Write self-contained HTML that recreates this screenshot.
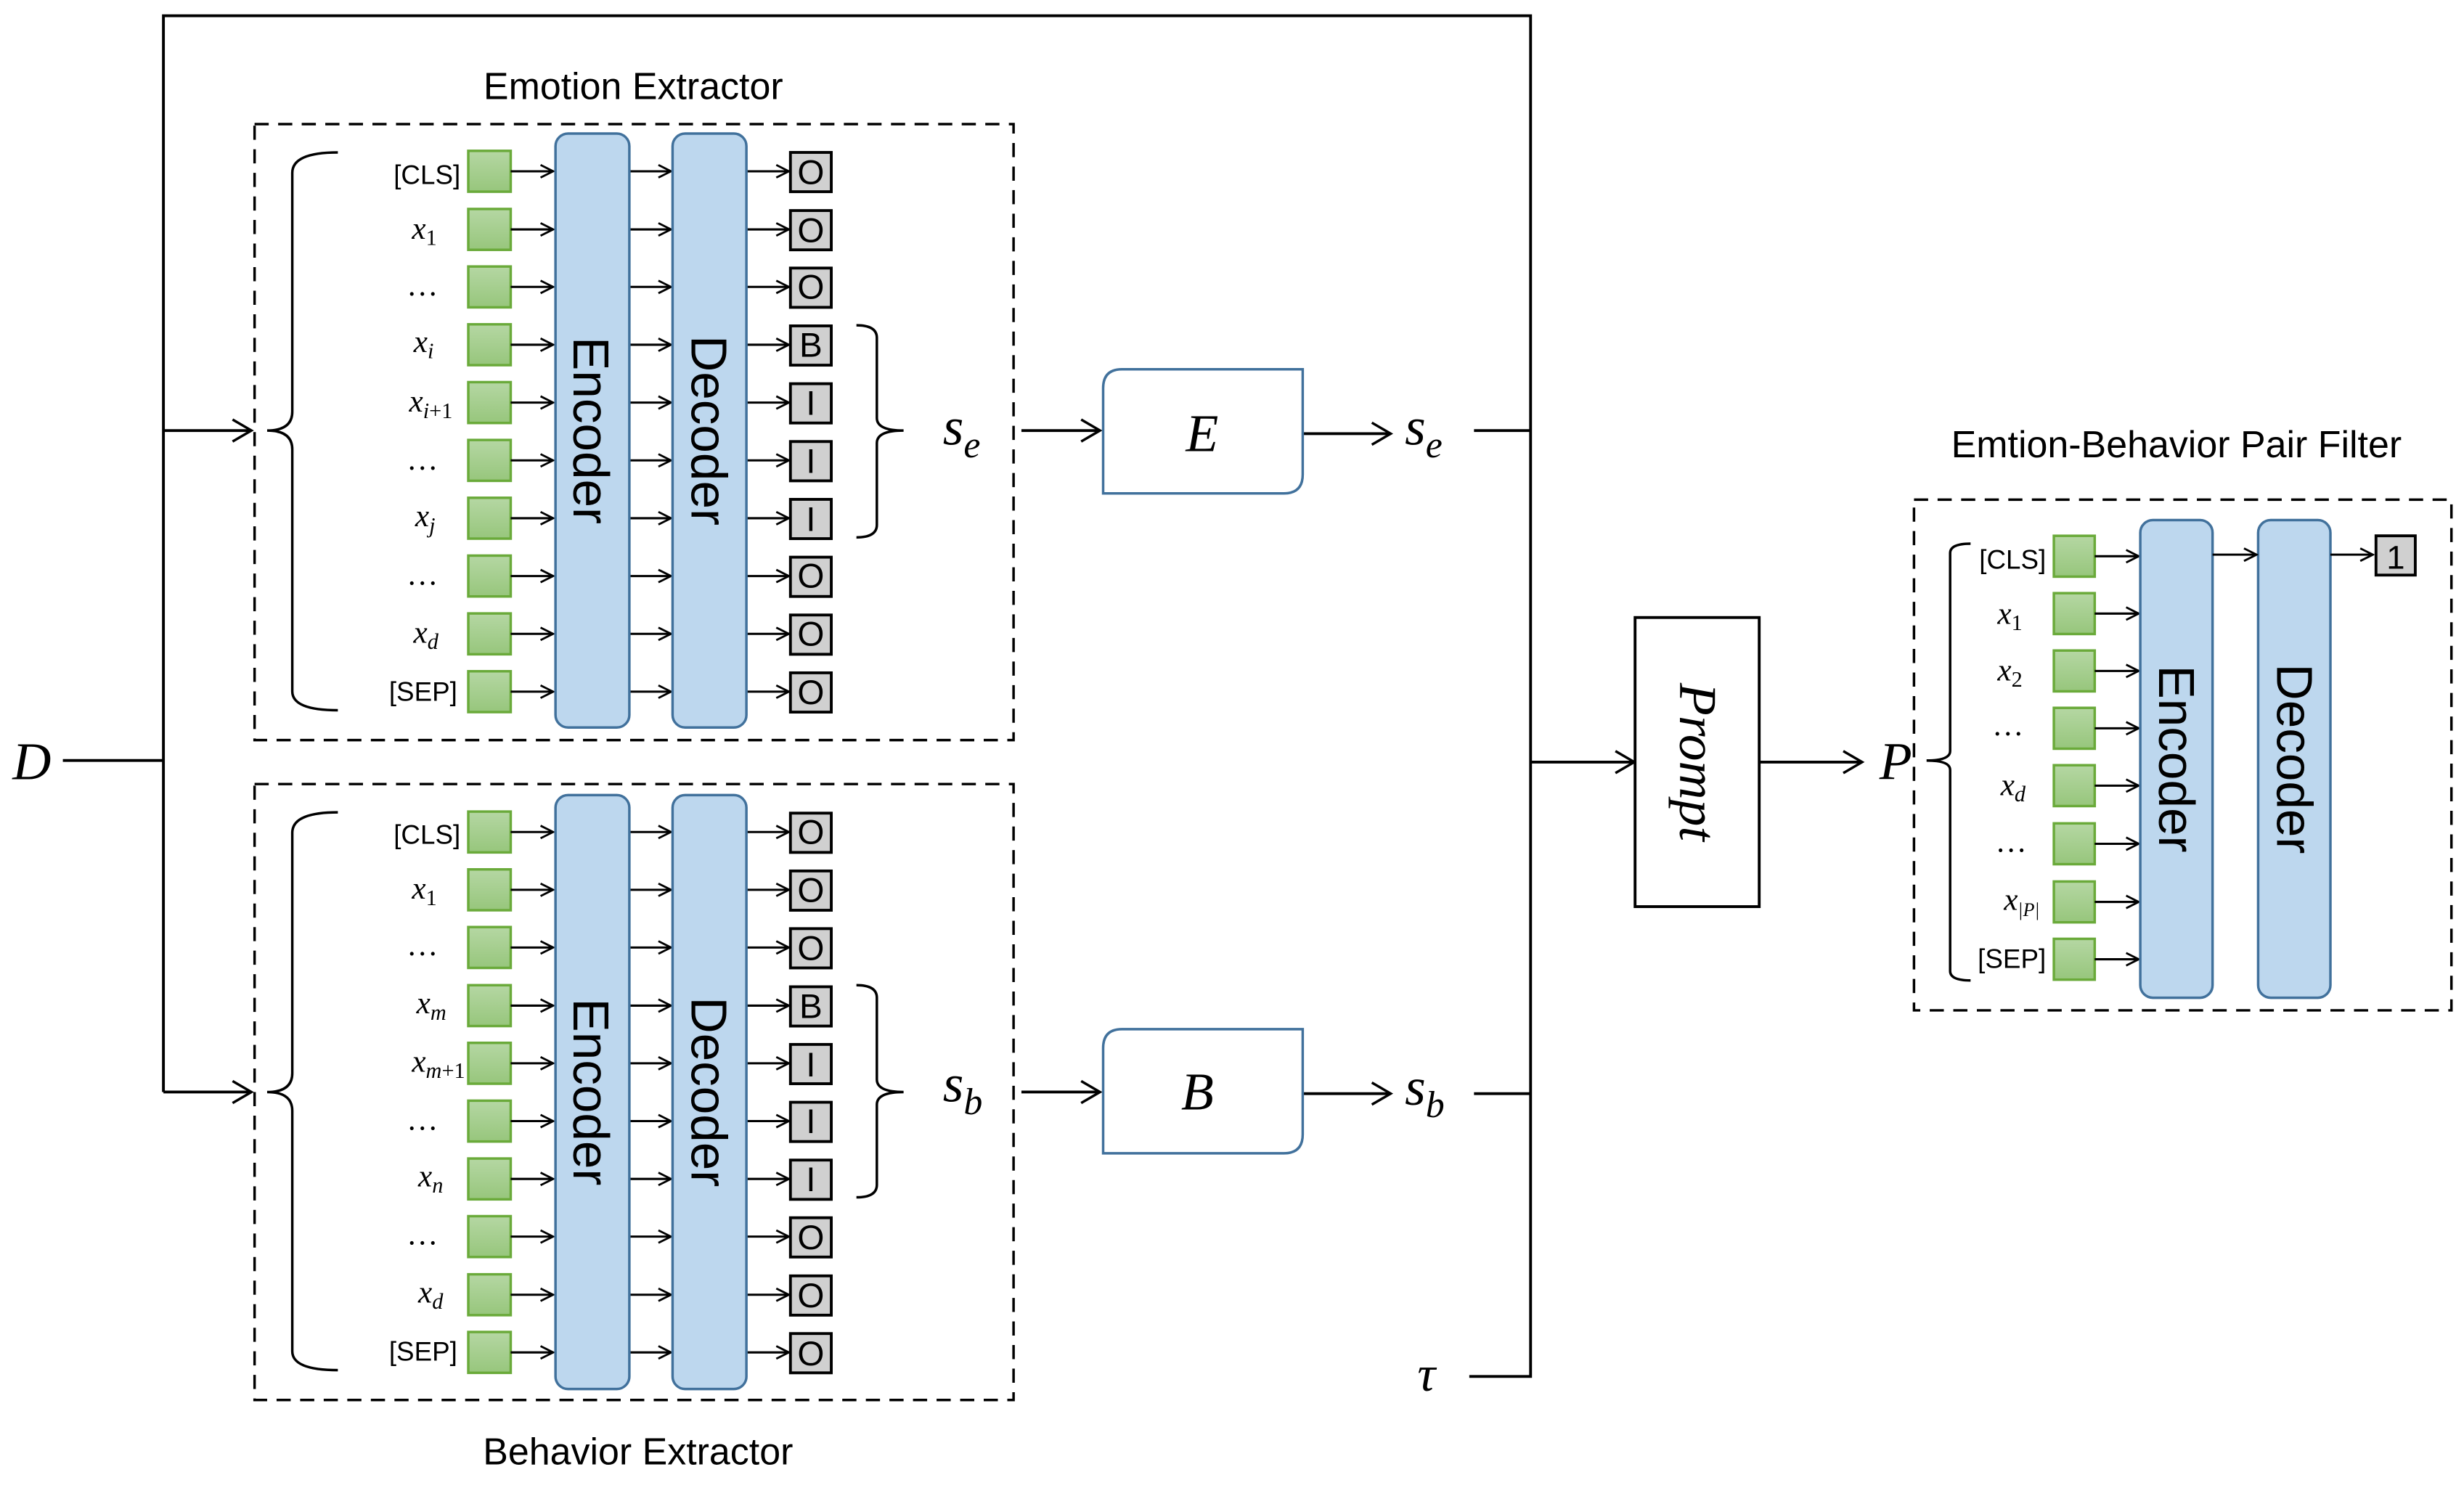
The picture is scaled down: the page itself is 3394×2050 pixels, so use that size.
<!DOCTYPE html>
<html><head><meta charset="utf-8"><style>
html,body{margin:0;padding:0;background:#fff;}
svg{display:block;}
.t{font-family:"Liberation Sans",sans-serif;}
.m{font-family:"Liberation Serif",serif;font-style:italic;}
</style></head><body>
<svg width="3394" height="2050" viewBox="0 0 1568 947" preserveAspectRatio="none" xmlns="http://www.w3.org/2000/svg">
<defs>
<marker id="a" markerWidth="10" markerHeight="10" refX="9" refY="5" orient="auto" markerUnits="userSpaceOnUse"><path d="M1,1 L9,5 L1,9" fill="none" stroke="#000" stroke-width="1.3"/></marker>
<marker id="b" markerWidth="16" markerHeight="16" refX="14" refY="8" orient="auto" markerUnits="userSpaceOnUse"><path d="M2,1 L14,8 L2,15" fill="none" stroke="#000" stroke-width="1.6"/></marker>
<linearGradient id="g" x1="0" y1="0" x2="0" y2="1"><stop offset="0" stop-color="#b5d7a3"/><stop offset="1" stop-color="#97c67c"/></linearGradient>
<g id="row">
<rect x="298" y="-13" width="27" height="26" fill="url(#g)" stroke="#6aaa3a" stroke-width="1.6"/>
<line x1="325" y1="0" x2="352" y2="0" stroke="#000" stroke-width="1.4" marker-end="url(#a)"/>
<line x1="401" y1="0" x2="427" y2="0" stroke="#000" stroke-width="1.4" marker-end="url(#a)"/>
<line x1="475" y1="0" x2="502" y2="0" stroke="#000" stroke-width="1.4" marker-end="url(#a)"/>
<rect x="503" y="-12" width="26" height="25" fill="#d0d0d0" stroke="#000" stroke-width="1.8"/>
</g>
<g id="row2">
<rect x="1307" y="-13" width="26" height="26" fill="url(#g)" stroke="#6aaa3a" stroke-width="1.6"/>
<line x1="1333" y1="0" x2="1361" y2="0" stroke="#000" stroke-width="1.4" marker-end="url(#a)"/>
</g>
</defs>

<g stroke="#000" stroke-width="1.8" fill="none">
<polyline points="104,695 104,10 974,10 974,876 935,876"/>
<line x1="40" y1="484" x2="104" y2="484"/>
<line x1="104" y1="274" x2="160" y2="274" marker-end="url(#b)"/>
<line x1="104" y1="695" x2="160" y2="695" marker-end="url(#b)"/>
<line x1="650" y1="274" x2="700" y2="274" marker-end="url(#b)"/>
<line x1="829" y1="276" x2="885" y2="276" marker-end="url(#b)"/>
<line x1="938" y1="274" x2="974" y2="274"/>
<line x1="650" y1="695" x2="700" y2="695" marker-end="url(#b)"/>
<line x1="829" y1="696" x2="885" y2="696" marker-end="url(#b)"/>
<line x1="938" y1="696" x2="974" y2="696"/>
<line x1="974" y1="485" x2="1040" y2="485" marker-end="url(#b)"/>
<line x1="1120" y1="485" x2="1185" y2="485" marker-end="url(#b)"/>
</g>

<text x="8" y="496" class="m" font-size="34">D</text>
<text x="600" y="283" class="m" font-size="34">s<tspan font-size="24" dy="8">e</tspan></text>
<text x="894" y="283" class="m" font-size="34">s<tspan font-size="24" dy="8">e</tspan></text>
<text x="600" y="701" class="m" font-size="34">s<tspan font-size="24" dy="8">b</tspan></text>
<text x="894" y="703" class="m" font-size="34">s<tspan font-size="24" dy="8">b</tspan></text>
<text x="902" y="885" class="m" font-size="32">τ</text>
<text x="1196" y="496" class="m" font-size="34">P</text>

<path d="M714,235 H829 V302 Q829,314 817,314 H702 V247 Q702,235 714,235 Z" fill="#fff" stroke="#41719c" stroke-width="1.6"/>
<text x="765" y="287" class="m" font-size="34" text-anchor="middle">E</text>
<path d="M714,655 H829 V722 Q829,734 817,734 H702 V667 Q702,655 714,655 Z" fill="#fff" stroke="#41719c" stroke-width="1.6"/>
<text x="762" y="706" class="m" font-size="34" text-anchor="middle">B</text>

<rect x="1040.5" y="393" width="79" height="184" fill="#fff" stroke="#000" stroke-width="1.8"/>
<text class="m" font-size="34" text-anchor="middle" transform="translate(1069,485) rotate(90)">Prompt</text>

<text x="403" y="63" class="t" font-size="24" text-anchor="middle">Emotion Extractor</text>
<text x="406" y="932" class="t" font-size="24" text-anchor="middle">Behavior Extractor</text>
<text x="1385" y="291" class="t" font-size="24" text-anchor="middle">Emtion-Behavior Pair Filter</text>

<rect x="162" y="79" width="483" height="392" fill="none" stroke="#000" stroke-width="1.6" stroke-dasharray="9,6"/>
<path d="M215,97 Q186,97 186,110 V262 Q186,274 170,274 Q186,274 186,286 V440 Q186,452 215,452" fill="none" stroke="#000" stroke-width="1.6"/>
<path d="M545,207 Q558,207 558,215 V266 Q558,274 575,274 Q558,274 558,282 V334 Q558,342 545,342" fill="none" stroke="#000" stroke-width="1.6"/>
<use href="#row" y="109"/><use href="#row" y="146"/><use href="#row" y="182.6"/><use href="#row" y="219.4"/><use href="#row" y="256.2"/>
<use href="#row" y="293"/><use href="#row" y="329.8"/><use href="#row" y="366.6"/><use href="#row" y="403.4"/><use href="#row" y="440.2"/>
<rect x="353.5" y="85" width="47" height="378" rx="8" fill="#bdd7ee" stroke="#41719c" stroke-width="1.6"/>
<rect x="428" y="85" width="47" height="378" rx="8" fill="#bdd7ee" stroke="#41719c" stroke-width="1.6"/>
<text class="t" font-size="32" text-anchor="middle" transform="translate(365,274) rotate(90)">Encoder</text>
<text class="t" font-size="32" text-anchor="middle" transform="translate(440,274) rotate(90)">Decoder</text>
<g class="t" font-size="22" text-anchor="middle">
<text x="516" y="117">O</text><text x="516" y="154">O</text><text x="516" y="190">O</text><text x="516" y="227">B</text><text x="516" y="264">I</text>
<text x="516" y="301">I</text><text x="516" y="338">I</text><text x="516" y="374">O</text><text x="516" y="411">O</text><text x="516" y="448">O</text>
</g>
<g font-size="20" text-anchor="end">
<text x="293" y="117" class="t" font-size="17">[CLS]</text>
<text x="278" y="152" class="m">x<tspan font-size="14" dy="4" font-style="normal">1</tspan></text>
<text x="278" y="188" class="m">…</text>
<text x="276" y="224" class="m">x<tspan font-size="14" dy="4">i</tspan></text>
<text x="288" y="262" class="m">x<tspan font-size="14" dy="4">i</tspan><tspan font-size="14" font-style="normal">+1</tspan></text>
<text x="278" y="299" class="m">…</text>
<text x="277" y="335" class="m">x<tspan font-size="14" dy="4">j</tspan></text>
<text x="278" y="372" class="m">…</text>
<text x="279" y="409" class="m">x<tspan font-size="14" dy="4">d</tspan></text>
<text x="291" y="446" class="t" font-size="17">[SEP]</text>
</g>

<rect x="162" y="499" width="483" height="392" fill="none" stroke="#000" stroke-width="1.6" stroke-dasharray="9,6"/>
<path d="M215,517 Q186,517 186,530 V683 Q186,695 170,695 Q186,695 186,707 V860 Q186,872 215,872" fill="none" stroke="#000" stroke-width="1.6"/>
<path d="M545,627 Q558,627 558,635 V687 Q558,695 575,695 Q558,695 558,703 V754 Q558,762 545,762" fill="none" stroke="#000" stroke-width="1.6"/>
<use href="#row" y="529.5"/><use href="#row" y="566.3"/><use href="#row" y="603"/><use href="#row" y="640"/><use href="#row" y="676.7"/>
<use href="#row" y="713.5"/><use href="#row" y="750.3"/><use href="#row" y="787"/><use href="#row" y="824"/><use href="#row" y="860.7"/>
<rect x="353.5" y="506" width="47" height="378" rx="8" fill="#bdd7ee" stroke="#41719c" stroke-width="1.6"/>
<rect x="428" y="506" width="47" height="378" rx="8" fill="#bdd7ee" stroke="#41719c" stroke-width="1.6"/>
<text class="t" font-size="32" text-anchor="middle" transform="translate(365,695) rotate(90)">Encoder</text>
<text class="t" font-size="32" text-anchor="middle" transform="translate(440,695) rotate(90)">Decoder</text>
<g class="t" font-size="22" text-anchor="middle">
<text x="516" y="537">O</text><text x="516" y="574">O</text><text x="516" y="611">O</text><text x="516" y="648">B</text><text x="516" y="685">I</text>
<text x="516" y="721">I</text><text x="516" y="758">I</text><text x="516" y="795">O</text><text x="516" y="832">O</text><text x="516" y="869">O</text>
</g>
<g font-size="20" text-anchor="end">
<text x="293" y="537" class="t" font-size="17">[CLS]</text>
<text x="278" y="572" class="m">x<tspan font-size="14" dy="4" font-style="normal">1</tspan></text>
<text x="278" y="608" class="m">…</text>
<text x="284" y="645" class="m">x<tspan font-size="14" dy="4">m</tspan></text>
<text x="296" y="682" class="m">x<tspan font-size="14" dy="4">m</tspan><tspan font-size="14" font-style="normal">+1</tspan></text>
<text x="278" y="719" class="m">…</text>
<text x="282" y="755" class="m">x<tspan font-size="14" dy="4">n</tspan></text>
<text x="278" y="792" class="m">…</text>
<text x="282" y="829" class="m">x<tspan font-size="14" dy="4">d</tspan></text>
<text x="291" y="866" class="t" font-size="17">[SEP]</text>
</g>

<rect x="1218" y="318" width="342" height="325" fill="none" stroke="#000" stroke-width="1.6" stroke-dasharray="9,6"/>
<path d="M1254,346 Q1241,346 1241,352 V478 Q1241,484 1226,484 Q1241,484 1241,490 V618 Q1241,624 1254,624" fill="none" stroke="#000" stroke-width="1.6"/>
<use href="#row2" y="354"/><use href="#row2" y="390.5"/><use href="#row2" y="427"/><use href="#row2" y="463.5"/>
<use href="#row2" y="500"/><use href="#row2" y="537"/><use href="#row2" y="574"/><use href="#row2" y="610.5"/>
<rect x="1362" y="331" width="46" height="304" rx="8" fill="#bdd7ee" stroke="#41719c" stroke-width="1.6"/>
<rect x="1437" y="331" width="46" height="304" rx="8" fill="#bdd7ee" stroke="#41719c" stroke-width="1.6"/>
<text class="t" font-size="32" text-anchor="middle" transform="translate(1374,483) rotate(90)">Encoder</text>
<text class="t" font-size="32" text-anchor="middle" transform="translate(1449,483) rotate(90)">Decoder</text>
<line x1="1408" y1="353" x2="1436" y2="353" stroke="#000" stroke-width="1.4" marker-end="url(#a)"/>
<line x1="1483" y1="353" x2="1510" y2="353" stroke="#000" stroke-width="1.4" marker-end="url(#a)"/>
<rect x="1512" y="341" width="25" height="25" fill="#d0d0d0" stroke="#000" stroke-width="1.8"/>
<text x="1524.5" y="362" class="t" font-size="21" text-anchor="middle">1</text>
<g font-size="20" text-anchor="end">
<text x="1302" y="362" class="t" font-size="17">[CLS]</text>
<text x="1287" y="397" class="m">x<tspan font-size="14" dy="4" font-style="normal">1</tspan></text>
<text x="1287" y="433" class="m">x<tspan font-size="14" dy="4" font-style="normal">2</tspan></text>
<text x="1287" y="468" class="m">…</text>
<text x="1289" y="506" class="m">x<tspan font-size="14" dy="4">d</tspan></text>
<text x="1289" y="542" class="m">…</text>
<text x="1298" y="579" class="m">x<tspan font-size="12" dy="4">|P|</tspan></text>
<text x="1302" y="616" class="t" font-size="17">[SEP]</text>
</g>
</svg>
</body></html>
